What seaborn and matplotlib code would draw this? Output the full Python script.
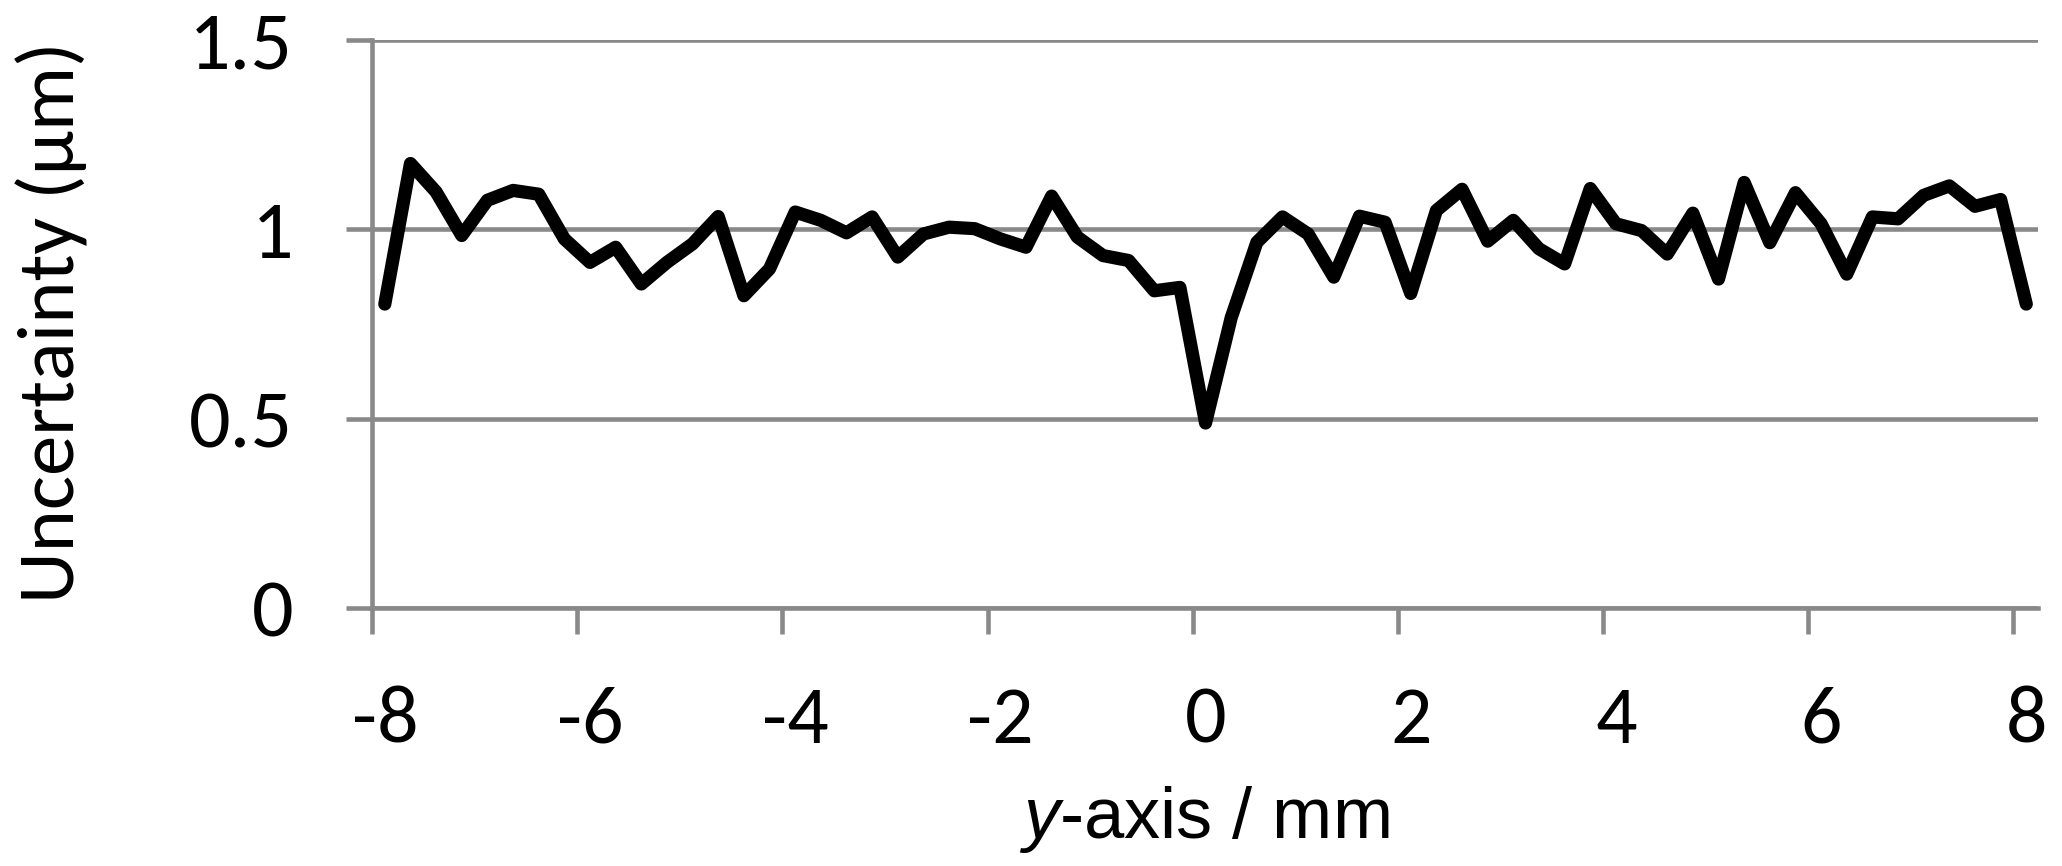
import matplotlib
matplotlib.use("Agg")
import matplotlib.pyplot as plt
import matplotlib.transforms as mtransforms
import numpy as np
import pandas as pd
import seaborn as sns

# ---- data ----
position_mm = [-7.875, -7.625, -7.375, -7.125, -6.875, -6.625, -6.375, -6.125,
               -5.875, -5.625, -5.375, -5.125, -4.875, -4.625, -4.375, -4.125,
               -3.875, -3.625, -3.375, -3.125, -2.875, -2.625, -2.375, -2.125,
               -1.875, -1.625, -1.375, -1.125, -0.875, -0.625, -0.375, -0.125,
               0.125, 0.375, 0.625, 0.875, 1.125, 1.375, 1.625, 1.875,
               2.125, 2.375, 2.625, 2.875, 3.125, 3.375, 3.625, 3.875,
               4.125, 4.375, 4.625, 4.875, 5.125, 5.375, 5.625, 5.875,
               6.125, 6.375, 6.625, 6.875, 7.125, 7.375, 7.625, 7.875,
               8.125]
uncertainty_um = [0.803, 1.174, 1.099, 0.984, 1.077, 1.103, 1.093, 0.975,
                  0.913, 0.953, 0.856, 0.913, 0.962, 1.034, 0.825, 0.896,
                  1.046, 1.024, 0.991, 1.033, 0.927, 0.988, 1.006, 1.002,
                  0.975, 0.953, 1.088, 0.980, 0.931, 0.918, 0.838, 0.847,
                  0.489, 0.767, 0.966, 1.033, 0.988, 0.874, 1.035, 1.019,
                  0.831, 1.050, 1.106, 0.969, 1.024, 0.949, 0.909, 1.108,
                  1.015, 0.997, 0.935, 1.043, 0.869, 1.124, 0.965, 1.097,
                  1.015, 0.882, 1.033, 1.028, 1.090, 1.115, 1.061, 1.079,
                  0.803]
x_ticks = [-8, -6, -4, -2, 0, 2, 4, 6, 8]
y_ticks = [0, 0.5, 1, 1.5]
y_tick_labels = ["0", "0.5", "1", "1.5"]
x_label = r"$\mathit{y}$-axis / mm"
y_label = "Uncertainty (μm)"

df = pd.DataFrame({"pos": position_mm, "unc": uncertainty_um})

sns.set_theme(style="white")
plt.rcParams["axes.unicode_minus"] = False
plt.rcParams["font.family"] = ["Carlito", "DejaVu Sans"]
plt.rcParams["font.weight"] = "normal"
plt.rcParams["mathtext.fontset"] = "custom"
plt.rcParams["mathtext.it"] = "Liberation Sans:italic"
plt.rcParams["mathtext.rm"] = "Liberation Sans"

GRID = "#898989"
DPI = 100
fig = plt.figure(figsize=(20.62, 8.66), dpi=DPI)
ax = fig.add_axes([0.1804, 0.2976, 0.8080, 0.6562])

sns.lineplot(data=df, x="pos", y="unc", color="black", linewidth=9.5,
             ax=ax, estimator=None, sort=False)
for ln in ax.get_lines():
    ln.set_solid_joinstyle("round")
    ln.set_solid_capstyle("round")

ax.set_xlim(-8, 8.24)
ax.set_ylim(0, 1.5)
ax.set_xticks(x_ticks)
ax.set_xticklabels([str(t) for t in x_ticks])
ax.set_yticks(y_ticks)
ax.set_yticklabels(y_tick_labels)

ax.grid(axis="y", color=GRID, linewidth=3.3)
ax.grid(axis="x", visible=False)
ax.set_axisbelow(True)
for s in ["top", "right"]:
    ax.spines[s].set_visible(False)
for s in ["left", "bottom"]:
    ax.spines[s].set_color(GRID)
    ax.spines[s].set_linewidth(3.3)

ax.tick_params(axis="both", direction="out", length=18.8, width=3.3,
               color=GRID, labelcolor="black", labelsize=59)
ax.tick_params(axis="x", pad=37, bottom=True)
ax.tick_params(axis="y", pad=38, left=True)

# Excel-like offset of the x tick labels
offset = mtransforms.ScaledTranslation(13 / DPI, 0, fig.dpi_scale_trans)
for lab in ax.get_xticklabels():
    lab.set_transform(lab.get_transform() + offset)

ax.set_xlabel(x_label, fontsize=52, color="black",
              family=["Liberation Sans", "DejaVu Sans"], fontweight="normal")
ax.xaxis.set_label_coords(1204 / 2062, (866 - 838) / 866, transform=fig.transFigure)
ax.xaxis.label.set_va("baseline")
ax.xaxis.label.set_ha("center")

ax.set_ylabel(y_label, fontsize=58, color="black")
ax.yaxis.set_label_coords(75 / 2062, (866 - 322) / 866, transform=fig.transFigure)
ax.yaxis.label.set_va("baseline")
ax.yaxis.label.set_ha("center")

fig.savefig("out.png", dpi=DPI, facecolor="white")
